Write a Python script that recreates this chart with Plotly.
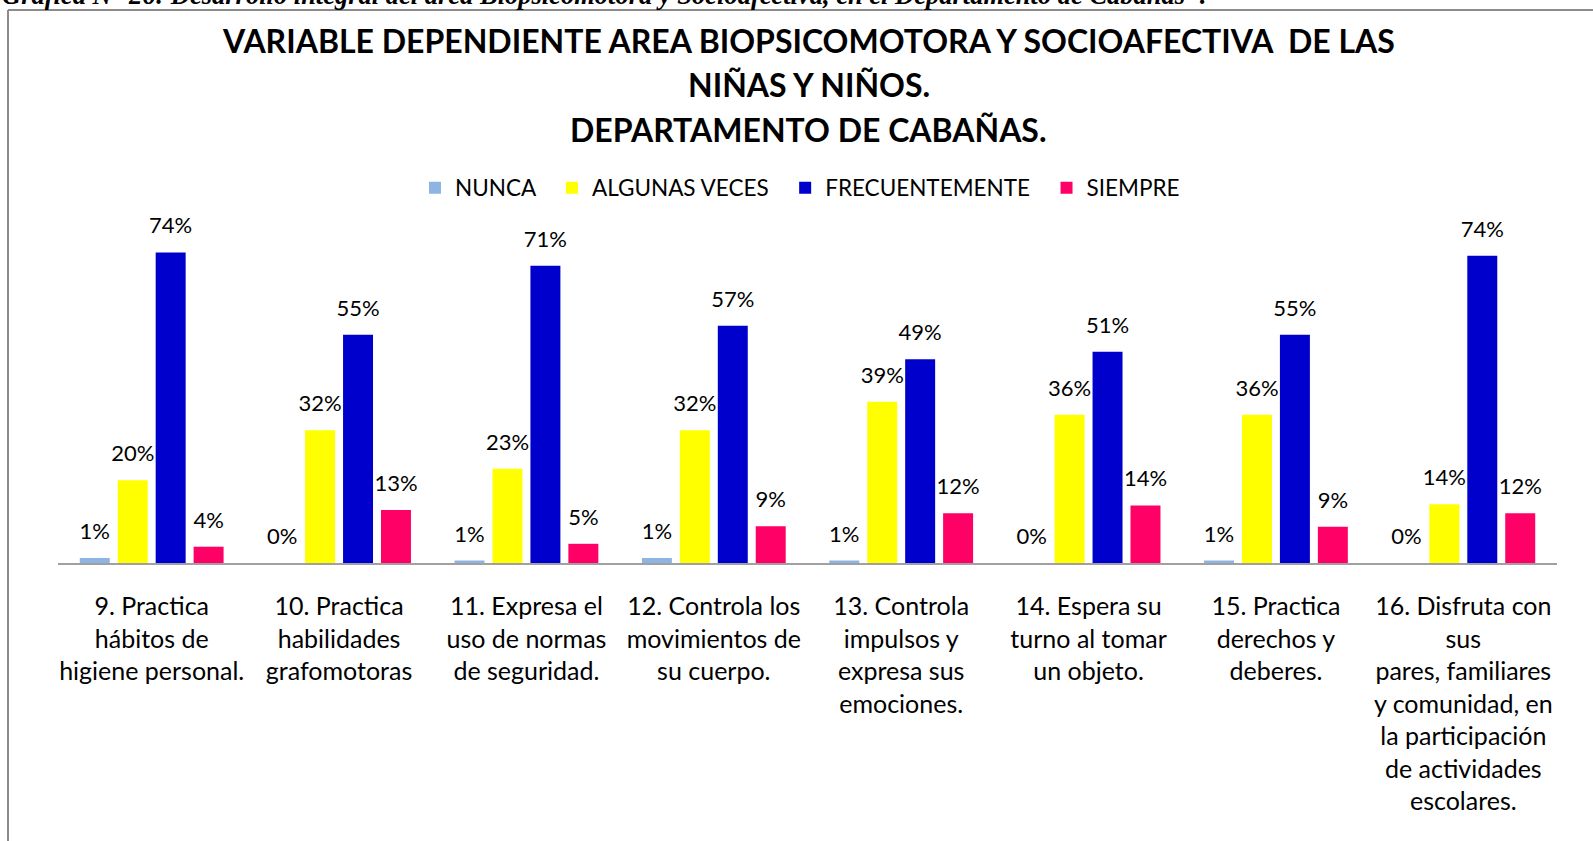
import plotly.graph_objects as go

categories = [
    "9. Practica<br>hábitos de<br>higiene personal.",
    "10. Practica<br>habilidades<br>grafomotoras",
    "11. Expresa el<br>uso de normas<br>de seguridad.",
    "12. Controla los<br>movimientos de<br>su cuerpo.",
    "13. Controla<br>impulsos y<br>expresa sus<br>emociones.",
    "14. Espera su<br>turno al tomar<br>un objeto.",
    "15. Practica<br>derechos y<br>deberes.",
    "16. Disfruta con<br>sus<br>pares, familiares<br>y comunidad, en<br>la participación<br>de actividades<br>escolares.",
]
nunca = [0.012, 0.0, 0.006, 0.012, 0.006, 0.0, 0.006, 0.0]
algunas = [0.198, 0.318, 0.226, 0.318, 0.386, 0.355, 0.355, 0.141]
frecuentemente = [0.744, 0.547, 0.712, 0.568, 0.488, 0.506, 0.547, 0.736]
siempre = [0.039, 0.127, 0.046, 0.088, 0.119, 0.138, 0.087, 0.119]

series = [
    ("NUNCA", nunca, "#8DB4E2"),
    ("ALGUNAS VECES", algunas, "#FFFF00"),
    ("FRECUENTEMENTE", frecuentemente, "#0000CC"),
    ("SIEMPRE", siempre, "#FF0066"),
]

FONT = "Lato"
W, H = 1593, 841
L, R, T, B = 58, 1557, 229, 563
NB = "\u00a0"

fig = go.Figure()
xs = list(range(len(categories)))
for name, vals, color in series:
    fig.add_trace(go.Bar(
        name=name + NB * 2, x=xs, y=vals,
        marker=dict(color=color, line=dict(width=0)),
        hovertemplate=name + ": %{y:.0%}<extra></extra>",
    ))
for name, vals, color in series:
    fig.add_trace(go.Scatter(
        x=xs, y=vals, mode="markers+text", showlegend=False,
        marker=dict(size=20, color="rgba(0,0,0,0)"),
        text=[f"{round(v*100)}%" for v in vals],
        textposition="top center", cliponaxis=False, hoverinfo="skip",
        textfont=dict(family=FONT, size=22, color="#000000"),
    ))

def px_x(p):
    return (p - L) / (R - L)

def px_y(p):
    return (B - p) / (B - T)

fig.update_layout(
    width=W, height=H,
    margin=dict(l=L, r=W - R, t=T, b=H - B, pad=0),
    paper_bgcolor="white", plot_bgcolor="white",
    barmode="group", bargap=0.19, bargroupgap=0.21,
    scattermode="group", scattergap=0.19,
    font=dict(family=FONT, color="#000000"),
    showlegend=True,
    legend=dict(
        orientation="h", x=px_x(415), xanchor="left",
        y=px_y(188), yanchor="middle",
        font=dict(family=FONT, size=22.5, color="#000000"),
        traceorder="normal", itemwidth=30,
    ),
    xaxis=dict(
        tickmode="array", tickvals=xs, ticktext=categories,
        range=[-0.5, len(categories) - 0.5],
        showline=True, linecolor="#A0A0A0", linewidth=2,
        ticks="", showgrid=False, zeroline=False,
        tickfont=dict(family=FONT, size=25, color="#000000"),
        ticklabelstandoff=20, tickangle=0,
    ),
    yaxis=dict(range=[0, 0.8], visible=False, showgrid=False, zeroline=False),
    annotations=[
        dict(text="<b>VARIABLE DEPENDIENTE AREA BIOPSICOMOTORA Y SOCIOAFECTIVA  DE LAS</b>",
             xref="paper", yref="paper", x=px_x(809), y=px_y(40), xanchor="center", yanchor="middle",
             showarrow=False, font=dict(family=FONT, size=32, color="#000000")),
        dict(text="<b>NIÑAS Y NIÑOS.</b>",
             xref="paper", yref="paper", x=px_x(809), y=px_y(85), xanchor="center", yanchor="middle",
             showarrow=False, font=dict(family=FONT, size=32, color="#000000")),
        dict(text="<b>DEPARTAMENTO DE CABAÑAS.</b>",
             xref="paper", yref="paper", x=px_x(809), y=px_y(129), xanchor="center", yanchor="middle",
             showarrow=False, font=dict(family=FONT, size=32, color="#000000")),
        dict(text="<b><i>Gráfica N° 26: Desarrollo integral del área Biopsicomotora y Socioafectiva, en el Departamento de Cabañas\".</i></b>",
             xref="paper", yref="paper", x=px_x(0), y=px_y(-5), xanchor="left", yanchor="middle",
             showarrow=False, font=dict(family="Liberation Serif", size=26.5, color="#000000")),
    ],
    shapes=[
        dict(type="line", xref="paper", yref="paper", x0=px_x(8), x1=px_x(8), y0=px_y(10), y1=px_y(845),
             line=dict(color="#8C8C8C", width=2)),
        dict(type="line", xref="paper", yref="paper", x0=px_x(8), x1=px_x(1600), y0=px_y(10), y1=px_y(10),
             line=dict(color="#8C8C8C", width=2)),
    ],
)

fig.write_html("out.html", config={"displayModeBar": False},
               post_script="document.body.style.margin='0';document.body.style.padding='0';")
